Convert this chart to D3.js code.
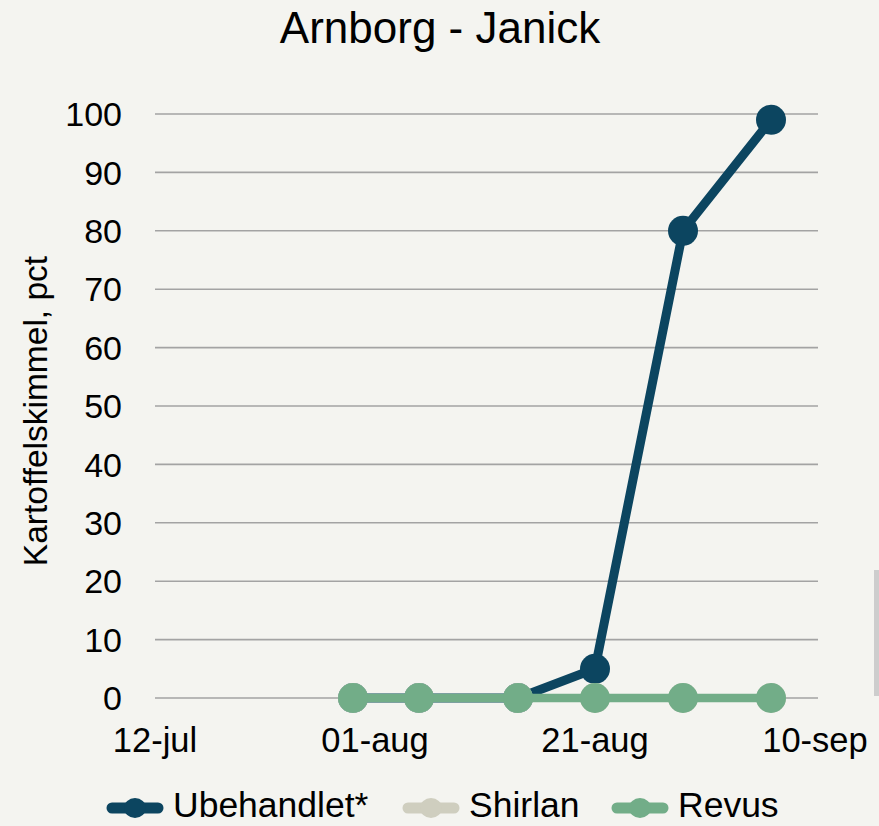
<!DOCTYPE html>
<html>
<head>
<meta charset="utf-8">
<script src="https://cdn.jsdelivr.net/npm/d3@7"></script>
<style>
  body { margin: 0; background: #f4f4f0; }
  svg { display: block; font-family: "Liberation Sans", Arial, sans-serif; }
</style>
</head>
<body>
<script>
// observation dates (2000 is just a placeholder year)
const dates = ['2000-07-30', '2000-08-05', '2000-08-14', '2000-08-21', '2000-08-29', '2000-09-06'];
const ubehandlet = [0, 0, 0, 5, 80, 99];
const shirlan = [0, 0, 0, 0, 0, 0];
const revus = [0, 0, 0, 0, 0, 0];
const seriesNames = ['Ubehandlet*', 'Shirlan', 'Revus'];
const seriesColors = ['#0c4560', '#cfcebf', '#72ad88'];
const xTickDates = ['2000-07-12', '2000-08-01', '2000-08-21', '2000-09-10'];
const xTickLabels = ['12-jul', '01-aug', '21-aug', '10-sep'];
const yTicks = [0, 10, 20, 30, 40, 50, 60, 70, 80, 90, 100];

const width = 879, height = 826;
const parse = d3.timeParse('%Y-%m-%d');

const svg = d3.select('body').append('svg')
              .attr('width', width)
              .attr('height', height);

svg.append('rect').attr('width', width).attr('height', height).attr('fill', '#f4f4f0');

const x = d3.scaleTime()
            .domain([parse(xTickDates[0]), parse(xTickDates[3])])
            .range([155, 815]);
const y = d3.scaleLinear().domain([0, 100]).range([698, 114]);

// title
svg.append('text')
   .attr('x', 440).attr('y', 43)
   .attr('text-anchor', 'middle')
   .attr('font-size', 44)
   .attr('fill', '#000')
   .text('Arnborg - Janick');

// y axis title
svg.append('text')
   .attr('transform', 'translate(47,411) rotate(-90)')
   .attr('text-anchor', 'middle')
   .attr('font-size', 33.5)
   .attr('fill', '#000')
   .text('Kartoffelskimmel, pct');

// gridlines
svg.append('g').selectAll('line')
   .data(yTicks)
   .enter().append('line')
   .attr('x1', 155).attr('x2', 818)
   .attr('y1', d => y(d)).attr('y2', d => y(d))
   .attr('stroke', '#a3a3a3')
   .attr('stroke-width', 1.6);

// y tick labels
svg.append('g').selectAll('text')
   .data(yTicks)
   .enter().append('text')
   .attr('x', 122).attr('y', d => y(d))
   .attr('dy', '0.36em')
   .attr('text-anchor', 'end')
   .attr('font-size', 34)
   .attr('fill', '#000')
   .text(d => d);

// x tick labels
svg.append('g').selectAll('text')
   .data(xTickDates)
   .enter().append('text')
   .attr('x', d => x(parse(d))).attr('y', 752)
   .attr('text-anchor', 'middle')
   .attr('font-size', 34.5)
   .attr('fill', '#000')
   .text((d, i) => xTickLabels[i]);

// series
const allSeries = [ubehandlet, shirlan, revus];
const line = d3.line()
               .x(d => x(d.date))
               .y(d => y(d.value));
const lineWidths = [9, 8, 8.5];
const radii = [15, 15, 15];

allSeries.forEach((vals, i) => {
   const pts = vals.map((v, j) => ({date: parse(dates[j]), value: v}));
   const g = svg.append('g');
   g.append('path')
    .attr('d', line(pts))
    .attr('fill', 'none')
    .attr('stroke', seriesColors[i])
    .attr('stroke-width', lineWidths[i])
    .attr('stroke-linejoin', 'round');
   g.selectAll('circle')
    .data(pts)
    .enter().append('circle')
    .attr('cx', d => x(d.date))
    .attr('cy', d => y(d.value))
    .attr('r', radii[i])
    .attr('fill', seriesColors[i]);
});

// legend
const legendSymX = [107, 403, 612];
const legend = svg.append('g');
seriesNames.forEach((name, i) => {
   const sx = legendSymX[i];
   legend.append('line')
         .attr('x1', sx + 5).attr('x2', sx + 51)
         .attr('y1', 808).attr('y2', 808)
         .attr('stroke', seriesColors[i])
         .attr('stroke-width', 11)
         .attr('stroke-linecap', 'round');
   legend.append('ellipse')
         .attr('cx', sx + 28).attr('cy', 808)
         .attr('rx', 11).attr('ry', 10)
         .attr('fill', seriesColors[i]);
   legend.append('text')
         .attr('x', sx + 66).attr('y', 817)
         .attr('font-size', 35.5)
         .attr('fill', '#000')
         .text(name);
});

// scrollbar remnant at the right edge of the screenshot
svg.append('rect')
   .attr('x', 874).attr('y', 570).attr('width', 5).attr('height', 126)
   .attr('fill', '#cdcdcd');
</script>
</body>
</html>
